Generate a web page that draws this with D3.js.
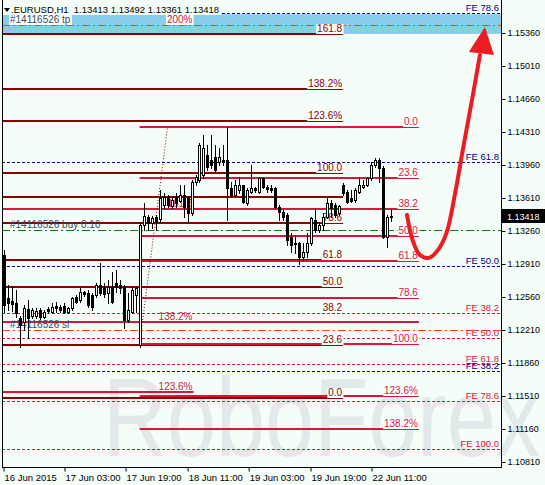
<!DOCTYPE html>
<html>
<head>
<meta charset="utf-8">
<script src="https://cdn.jsdelivr.net/npm/d3@7"></script>
<style>
  body { margin: 0; background: #f4fdf8; }
  svg { display: block; font-family: "Liberation Sans", Arial, sans-serif; }
</style>
</head>
<body>
<svg width="545" height="485"></svg>
<script>
// EURUSD H1 bars
var opens = [1.13007,1.12551,1.12519,1.12498,1.12339,1.12297,1.12435,1.12360,1.12360,1.12424,
  1.12350,1.12435,1.12403,1.12466,1.12456,1.12466,1.12403,1.12445,1.12562,1.12530,
  1.12615,1.12604,1.12583,1.12583,1.12689,1.12657,1.12604,1.12668,1.12710,1.12689,
  1.12668,1.12318,1.12403,1.12583,1.12053,1.13325,1.13410,1.13346,1.13410,1.13389,
  1.13537,1.13622,1.13526,1.13632,1.13579,1.13643,1.13611,1.13452,1.13781,1.13802,
  1.13855,1.14067,1.14014,1.14046,1.13993,1.14014,1.14014,1.13717,1.13643,1.13696,
  1.13749,1.13558,1.13675,1.13717,1.13675,1.13823,1.13728,1.13717,1.13717,1.13516,
  1.13463,1.13431,1.13198,1.13134,1.13134,1.12986,1.13039,1.13134,1.13378,1.13272,
  1.13325,1.13410,1.13558,1.13537,1.13452,1.13749,1.13675,1.13611,1.13590,1.13675,
  1.13728,1.13749,1.13823,1.13961,1.14014,1.13929,1.13198,1.13413];
var highs = [1.13060,1.12689,1.12668,1.12636,1.12360,1.12477,1.12530,1.12445,1.12445,1.12445,
  1.12424,1.12456,1.12498,1.12509,1.12477,1.12498,1.12456,1.12562,1.12583,1.12657,
  1.12625,1.12636,1.12604,1.12710,1.12922,1.12710,1.12742,1.12827,1.12848,1.12742,
  1.12689,1.12604,1.12668,1.12668,1.13357,1.13558,1.13431,1.13420,1.13431,1.13696,
  1.13664,1.13643,1.13622,1.13664,1.13749,1.13749,1.13632,1.13802,1.13855,1.14194,
  1.14279,1.14173,1.14279,1.14173,1.14141,1.14173,1.14364,1.13781,1.13802,1.13834,
  1.13749,1.13717,1.13961,1.13728,1.13834,1.13834,1.13749,1.13749,1.13728,1.13537,
  1.13484,1.13452,1.13240,1.13219,1.13145,1.13134,1.13240,1.13410,1.13505,1.13357,
  1.13452,1.13611,1.13590,1.13558,1.13537,1.13770,1.13696,1.13696,1.13717,1.13834,
  1.13802,1.13834,1.13993,1.14035,1.14035,1.13950,1.13431,1.13492];
var lows = [1.12403,1.12424,1.12413,1.12350,1.12032,1.12212,1.12127,1.12339,1.12339,1.12329,
  1.12339,1.12392,1.12392,1.12403,1.12403,1.12392,1.12392,1.12424,1.12498,1.12509,
  1.12572,1.12456,1.12424,1.12562,1.12583,1.12562,1.12498,1.12498,1.12615,1.12604,
  1.12233,1.12297,1.12392,1.12403,1.12032,1.13272,1.13272,1.13293,1.13272,1.13357,
  1.13505,1.13516,1.13505,1.13516,1.13569,1.13410,1.13357,1.13431,1.13749,1.13781,
  1.13823,1.13908,1.13929,1.13887,1.13961,1.13961,1.13378,1.13622,1.13622,1.13664,
  1.13558,1.13537,1.13664,1.13675,1.13664,1.13717,1.13675,1.13675,1.13505,1.13378,
  1.13378,1.13113,1.13039,1.13028,1.12912,1.12954,1.12986,1.13113,1.13251,1.13251,
  1.13272,1.13399,1.13410,1.13410,1.13431,1.13643,1.13558,1.13569,1.13569,1.13664,
  1.13717,1.13738,1.13802,1.13940,1.13781,1.13187,1.13092,1.13361];
var closes = [1.12477,1.12498,1.12488,1.12392,1.12265,1.12445,1.12339,1.12424,1.12413,1.12350,
  1.12403,1.12413,1.12456,1.12445,1.12424,1.12403,1.12445,1.12551,1.12509,1.12615,
  1.12594,1.12477,1.12456,1.12689,1.12604,1.12594,1.12668,1.12509,1.12668,1.12657,
  1.12318,1.12424,1.12636,1.12657,1.13325,1.13420,1.13346,1.13399,1.13357,1.13611,
  1.13622,1.13537,1.13590,1.13558,1.13643,1.13516,1.13452,1.13781,1.13834,1.14173,
  1.14141,1.13940,1.13961,1.13908,1.14046,1.13993,1.13717,1.13643,1.13749,1.13749,
  1.13569,1.13696,1.13717,1.13696,1.13823,1.13728,1.13707,1.13696,1.13516,1.13463,
  1.13410,1.13166,1.13113,1.13124,1.12986,1.13039,1.13134,1.13399,1.13272,1.13325,
  1.13410,1.13558,1.13505,1.13431,1.13526,1.13664,1.13569,1.13579,1.13696,1.13749,
  1.13749,1.13823,1.13961,1.14014,1.13929,1.13198,1.13410,1.13418];

var priceTicks = [1.15360,1.15010,1.14660,1.14310,1.13960,1.13610,1.13260,1.12910,1.12560,1.12210,1.11860,1.11510,1.11160,1.10810];
var timeLabels = ['16 Jun 2015','17 Jun 03:00','17 Jun 19:00','18 Jun 11:00','19 Jun 03:00','19 Jun 19:00','22 Jun 11:00'];
var timeTickBars = [-0.25, 15.05, 30.35, 45.9, 61.2, 76.7, 92];

// fibo grids
var fiboALabels = ['161.8','138.2%','123.6%','100.0','','78.6','61.8','50.0','38.2','23.6','0.0'];
var fiboAPrices = [1.15350,1.14767,1.14427,1.13876,1.13622,1.13346,1.12954,1.12668,1.12392,1.12053,1.11491];
var fiboBLabels = ['0.0','23.6','38.2','50.0','61.8','78.6','','100.0','123.6%','138.2%'];
var fiboBPrices = [1.14364,1.13823,1.13495,1.13208,1.12943,1.12551,1.12297,1.12064,1.11512,1.11163];
var fiboCLabels = ['200%','161.8','138.2%','123.6%'];
var fiboCPrices = [1.15445,1.13495,1.12297,1.11555];
var fiboBTrend = [[34, 1.12064], [41, 1.14364]];

// fibo expansions
var feNavyLabels = ['FE 78.6','FE 61.8','FE 50.0','FE 38.2'];
var feNavyPrices = [1.15572,1.13993,1.12890,1.11777];
var feRedLabels = ['FE 38.2','FE 50.0','FE 61.8','FE 78.6','FE 100.0'];
var feRedPrices = [1.12392,1.12127,1.11852,1.11459,1.10951];

// order
var orderLabels = ['#14116526 tp','#14116526 buy 0.10','#14116526 sl'];
var orderPrices = [1.15445,1.13272,1.12212];
var tpZone = [1.15560,1.15350];
var lastPrice = 1.13418;

// forecast arrow (bar index, price)
var arrowPts = [[101,1.13431],[102.4,1.13166],[104.2,1.13007],[106.5,1.12975],[108.8,1.13060],
  [111,1.13251],[113,1.13643],[115,1.14120],[117.3,1.14650],[119.3,1.15127]];
var arrowHead = [[120.55,1.15424],[116.5,1.15159],[122.8,1.15127]];

var bg = '#f4fdf8', maroon = '#8b0000', crimson = '#dc143c', navy = '#00008b', orange = '#ff4500';
var left = 2, right = 501, bottom = 467;

var svg = d3.select('svg');
var xScale = d3.scaleLinear().domain([0, 97]).range([4, 391]);
var yScale = d3.scaleLinear().domain([1.10810, 1.15360]).range([462, 33]);

svg.append('rect').attr('width', 545).attr('height', 485).attr('fill', bg);

// watermark (runs past the plot edge)
svg.append('text').attr('x', 103).attr('y', 456).attr('font-size', 112)
  .attr('textLength', 437).attr('lengthAdjust', 'spacingAndGlyphs')
  .attr('fill', '#e0eaea').text('RoboForex');

svg.append('defs').append('clipPath').attr('id', 'plot')
  .append('rect').attr('x', left).attr('y', 0).attr('width', right - left).attr('height', bottom);
var g = svg.append('g').attr('clip-path', 'url(#plot)');

// tp zone
g.append('rect').attr('x', left).attr('width', right - left)
  .attr('y', yScale(tpZone[0])).attr('height', yScale(tpZone[1]) - yScale(tpZone[0]))
  .attr('fill', '#87ceeb');

function py(p, w) { return w % 2 ? Math.round(yScale(p)) + 0.5 : Math.round(yScale(p)); }

function hline(p, x0, x1, color, w, dash) {
  g.append('line').attr('x1', x0).attr('x2', x1).attr('y1', py(p, w)).attr('y2', py(p, w))
    .attr('stroke', color).attr('stroke-width', w).attr('stroke-dasharray', dash || null);
}

function label(txt, xx, p, color, anchor, size, box) {
  var t = g.append('text').attr('x', xx).attr('y', Math.round(yScale(p)) - 2)
    .attr('text-anchor', anchor).attr('font-size', size).attr('fill', color).text(txt);
  if (box) {
    var b = t.node().getBBox();
    g.insert('rect', function() { return t.node(); })
      .attr('x', b.x - 1).attr('y', b.y + 1).attr('width', b.width + 2).attr('height', b.height - 1)
      .attr('fill', '#f9fffc');
  }
}

// expansion lines (dashed, full width)
feNavyPrices.forEach(function(p) { hline(p, left, right, navy, 1, '3,2'); });
feRedPrices.forEach(function(p) { hline(p, left, right, crimson, 1, '3,2'); });

// fibo A (maroon); its 38.2 line sits under the dashed FE 38.2
fiboAPrices.forEach(function(p, i) {
  if (fiboALabels[i] !== '38.2') hline(p, left, xScale(85), maroon, 2);
});
// fibo C (left part), 200% shares the tp line
fiboCPrices.forEach(function(p, i) {
  if (fiboCLabels[i] !== '200%') hline(p, left, xScale(47.5), crimson, 2);
});
// fibo B (crimson)
fiboBPrices.forEach(function(p) { hline(p, xScale(34), xScale(104), crimson, 2); });

// order lines
hline(orderPrices[0], left, right, orange, 1, '8,3,2,3');
hline(orderPrices[1], left, right, '#008000', 1, '8,3,2,3');
hline(orderPrices[2], left, right, orange, 1, '8,3,2,3');

// fibo B trend line
g.append('line')
  .attr('x1', xScale(fiboBTrend[0][0])).attr('y1', yScale(fiboBTrend[0][1]))
  .attr('x2', xScale(fiboBTrend[1][0])).attr('y2', yScale(fiboBTrend[1][1]))
  .attr('stroke', maroon).attr('stroke-width', 1).attr('stroke-dasharray', '1,2');

// labels
fiboALabels.forEach(function(t, i) {
  if (t) label(t, xScale(85) - 1, fiboAPrices[i], maroon, 'end', 10, true);
});
fiboBLabels.forEach(function(t, i) {
  if (t) label(t, xScale(104) - 1, fiboBPrices[i], crimson, 'end', 10, true);
});
fiboCLabels.forEach(function(t, i) {
  label(t, xScale(47.5) - 1, fiboCPrices[i], crimson, 'end', 10, i === 0);
});
feNavyLabels.forEach(function(t, i) { label(t, right - 2, feNavyPrices[i], navy, 'end', 9.5, false); });
feRedLabels.forEach(function(t, i) { label(t, right - 2, feRedPrices[i], crimson, 'end', 9.5, false); });
orderLabels.forEach(function(t, i) {
  label(t, 10, orderPrices[i], '#3c4a62', 'start', 10, i === 0);
});

// candles
var bars = opens.map(function(o, i) {
  return {i: i, o: o, h: highs[i], l: lows[i], c: closes[i]};
});
var cg = g.append('g');
cg.selectAll('line').data(bars).enter().append('line')
  .attr('x1', function(d) { return Math.round(xScale(d.i)) + 0.5; })
  .attr('x2', function(d) { return Math.round(xScale(d.i)) + 0.5; })
  .attr('y1', function(d) { return Math.round(yScale(d.h)); })
  .attr('y2', function(d) { return Math.round(yScale(d.l)) + 1; })
  .attr('stroke', '#000');
cg.selectAll('rect').data(bars).enter().append('rect')
  .attr('x', function(d) { return Math.round(xScale(d.i)) - 0.5; })
  .attr('width', 2)
  .attr('y', function(d) { return Math.round(yScale(Math.max(d.o, d.c))) + 0.5; })
  .attr('height', function(d) {
    return Math.max(0.01, Math.round(yScale(Math.min(d.o, d.c))) - Math.round(yScale(Math.max(d.o, d.c))));
  })
  .attr('fill', function(d) { return d.c >= d.o ? '#fff' : '#000'; })
  .attr('stroke', '#000');

// forecast arrow
var arrowLine = d3.line()
  .x(function(d) { return xScale(d[0]); })
  .y(function(d) { return yScale(d[1]); })
  .curve(d3.curveCatmullRom);
svg.append('path').attr('d', arrowLine(arrowPts)).attr('fill', 'none')
  .attr('stroke', '#ec1c24').attr('stroke-width', 4).attr('stroke-linecap', 'round');
svg.append('path').attr('d', d3.line()
    .x(function(d) { return xScale(d[0]); })
    .y(function(d) { return yScale(d[1]); })(arrowHead) + 'Z')
  .attr('fill', '#ec1c24');

// frame
svg.append('line').attr('x1', left + 0.5).attr('x2', left + 0.5).attr('y1', 0).attr('y2', bottom)
  .attr('stroke', '#000');

// axes
var yAxis = d3.axisRight(yScale).tickValues(priceTicks).tickFormat(d3.format('.5f'))
  .tickSize(4).tickPadding(2);
var ya = svg.append('g').attr('transform', 'translate(' + (right + 0.5) + ',0)').call(yAxis);
ya.select('.domain').attr('d', 'M0,0V' + (bottom + 0.5));
ya.selectAll('text').attr('font-size', 9).attr('font-family', '"Liberation Sans", Arial, sans-serif').attr('fill', '#000');

var xAxis = d3.axisBottom(xScale).tickValues(timeTickBars)
  .tickFormat(function(d, i) { return timeLabels[i]; }).tickSize(4).tickPadding(3);
var xa = svg.append('g').attr('transform', 'translate(0,' + (bottom + 0.5) + ')').call(xAxis);
xa.select('.domain').attr('d', 'M' + left + ',0H' + (right + 0.5));
xa.selectAll('.tick line').attr('transform', 'translate(0.5,0)');
xa.selectAll('text').attr('text-anchor', 'start').attr('dx', 1).attr('font-size', 9.5)
  .attr('font-family', '"Liberation Sans", Arial, sans-serif').attr('fill', '#000');

// last price marker
var ly = Math.round(yScale(lastPrice));
svg.append('rect').attr('x', right + 1).attr('y', ly - 7).attr('width', 44).attr('height', 14).attr('fill', '#000');
svg.append('text').attr('x', right + 6).attr('y', ly + 3.5).attr('font-size', 9).attr('fill', '#fff').text(lastPrice.toFixed(5));

// header
svg.append('rect').attr('x', 3).attr('y', 2).attr('width', 218).attr('height', 13).attr('fill', bg);
svg.append('path').attr('d', 'M4,8H10L7,12Z').attr('fill', '#000');
svg.append('text').attr('x', 11).attr('y', 13).attr('font-size', 9.5).attr('fill', '#000')
  .attr('xml:space', 'preserve')
  .text('.EURUSD,H1  ' + [opens[97], highs[97], lows[97], closes[97]].map(function(v) { return v.toFixed(5); }).join(' '));
</script>
</body>
</html>
